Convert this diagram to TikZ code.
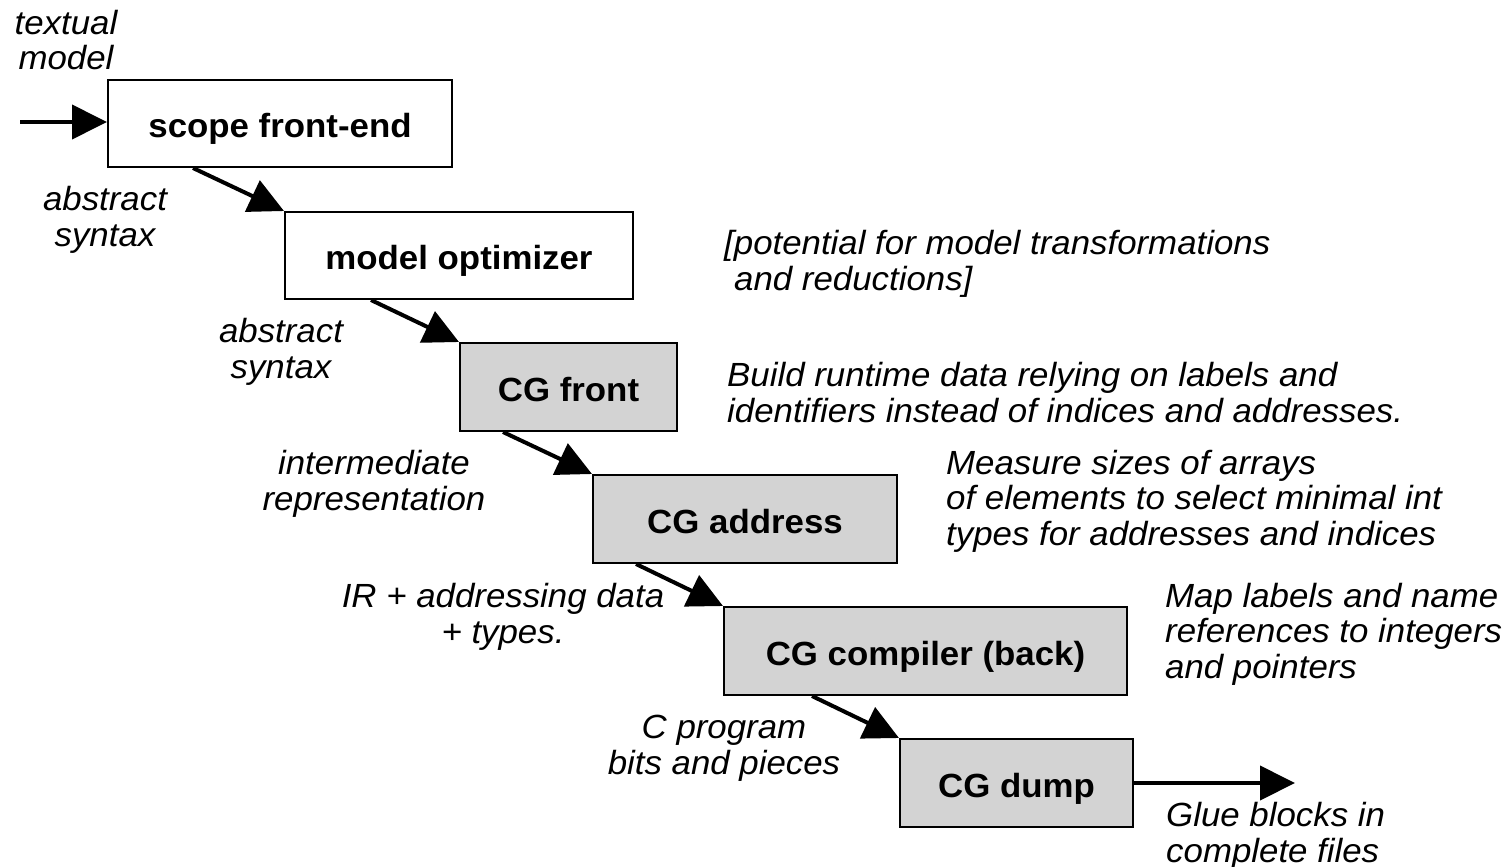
\documentclass[tikz,border=0pt]{standalone}
\usepackage{fontspec}
\setmainfont[FakeStretch=1.04]{Liberation Sans}
\usetikzlibrary{arrows.meta,calc}
\definecolor{boxgray}{RGB}{211,211,211}
\begin{document}
\begin{tikzpicture}[x=1pt,y=-1pt,
  box/.style={draw, line width=2pt, inner sep=0pt, anchor=north west,
    text height=28pt, text depth=0pt,
    font=\bfseries\fontsize{33.5}{36}\selectfont},
  gbox/.style={box, fill=boxgray},
  lbl/.style={font=\itshape\fontsize{33.5}{35.5}\selectfont, inner sep=0pt},
  lblc/.style={lbl, align=center, anchor=base},
  lbll/.style={lbl, align=left, anchor=base west},
  arr/.style={line width=4pt, -{Triangle[length=35pt,width=34pt]}}]
\useasboundingbox (0,0) rectangle (1510,867);

% boxes
\node[box,  minimum width=344pt, minimum height=87pt] (scope) at (107,79)  {scope front-end};
\node[box,  minimum width=348pt, minimum height=87pt] (opt)   at (284,211) {model optimizer};
\node[gbox, minimum width=217pt, minimum height=88pt] (front) at (459,342) {CG front};
\node[gbox, minimum width=304pt, minimum height=88pt] (addr)  at (592,474) {CG address};
\node[gbox, minimum width=403pt, minimum height=88pt] (comp)  at (723,606) {CG compiler (back)};
\node[gbox, minimum width=233pt, minimum height=88pt] (dump)  at (899,738) {CG dump};

% connectors
\coordinate (in)  at (20,122);
\coordinate (out) at (1295,782);
\draw[arr] (in) -- (in -| scope.west);
\draw[arr] ($(scope.south west)+(86,0)$) -- (opt.north west);
\draw[arr] ($(opt.south west)+(87,0)$)   -- (front.north west);
\draw[arr] ($(front.south west)+(44,0)$) -- (addr.north west);
\draw[arr] ($(addr.south west)+(44,0)$)  -- (comp.north west);
\draw[arr] ($(comp.south west)+(89,0)$)  -- (dump.north west);
\draw[arr] (dump.east) -- (dump.east -| out);

% flow labels (anchor = baseline of last line)
\node[lblc] (t1) at (66,70)   {textual\\model};
\node[lblc] (t2) at (105,246) {abstract\\syntax};
\node[lblc] (t3) at (281,378) {abstract\\syntax};
\node[lblc] (t4) at (374,510) {intermediate\\representation};
\node[lblc] (t5) at (503,643) {IR + addressing data\\+ types.};
\node[lblc] (t6) at (724,774) {C program\\bits and pieces};

% comments
\node[lbll] (c1) at (724,290)  {[potential for model transformations\\\hspace*{10pt}and reductions]};
\node[lbll] (c2) at (727,422)  {Build runtime data relying on labels and\\identifiers instead of indices and addresses.};
\node[lbll] (c3) at (946,545)  {Measure sizes of arrays\\of elements to select minimal int\\types for addresses and indices};
\node[lbll] (c4) at (1165,678) {Map labels and name\\references to integers\\and pointers};
\node[lbll] (c5) at (1166,862) {Glue blocks in\\complete files};
\end{tikzpicture}
\end{document}
